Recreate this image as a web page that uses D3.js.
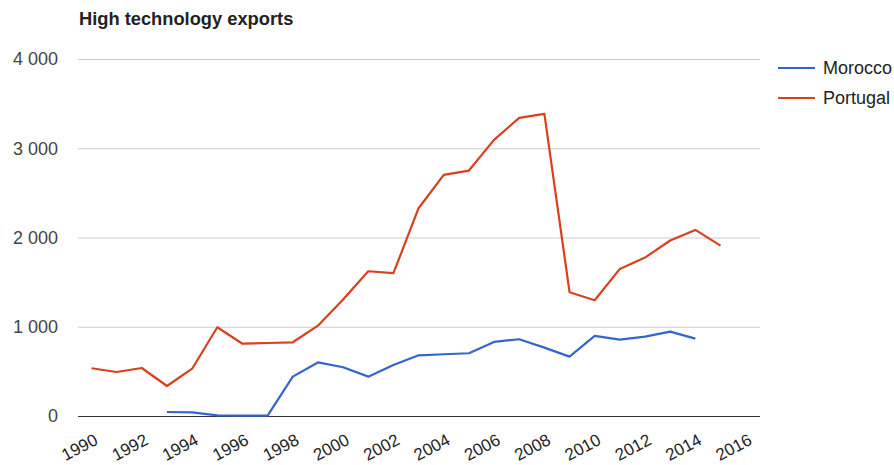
<!DOCTYPE html>
<html>
<head>
<meta charset="utf-8">
<script src="https://cdn.jsdelivr.net/npm/d3@7"></script>
<style>
  html, body { margin: 0; padding: 0; background: #fff; }
  svg { display: block; font-family: "Liberation Sans", Arial, sans-serif; }
</style>
</head>
<body>
<svg id="chart" width="894" height="465"></svg>
<script>
// High technology exports by year
const years = [1990, 1991, 1992, 1993, 1994, 1995, 1996, 1997, 1998, 1999,
               2000, 2001, 2002, 2003, 2004, 2005, 2006, 2007, 2008, 2009,
               2010, 2011, 2012, 2013, 2014, 2015];
const morocco = [null, null, null, 45, 40, 8, 5, 5, 441, 600,
                 546, 441, 572, 680, 692, 703, 830, 860, 766, 665,
                 897, 856, 889, 945, 867, null];
const portugal = [535, 493, 538, 336, 530, 994, 810, 818, 826, 1012,
                  1305, 1622, 1600, 2328, 2702, 2750, 3094, 3341, 3386, 1387,
                  1297, 1648, 1775, 1966, 2085, 1909];
const seriesNames = ["Morocco", "Portugal"];
const seriesColors = ["#3366cc", "#d8401e"];
const yTicks = [0, 1000, 2000, 3000, 4000];
const xTicks = [1990, 1992, 1994, 1996, 1998, 2000, 2002, 2004, 2006, 2008, 2010, 2012, 2014, 2016];
const title = "High technology exports";

const svg = d3.select("#chart");
const plot = { left: 78, right: 760, top: 59, bottom: 416 };

const x = d3.scaleLinear().domain([1990, 2015]).range([91.5, 720.5]);
const y = d3.scaleLinear().domain([0, 4000]).range([plot.bottom, plot.top]);

// Title
svg.append("text")
  .attr("x", 79).attr("y", 25)
  .attr("font-size", 18.3).attr("font-weight", "bold").attr("fill", "#222")
  .text(title);

// Horizontal gridlines and y labels
const yAxis = d3.axisLeft(y).tickValues(yTicks)
  .tickSize(-(plot.right - plot.left))
  .tickPadding(20)
  .tickFormat(d => d3.format(",")(d).replace(/,/g, " "));
const gy = svg.append("g").attr("transform", `translate(${plot.left},0)`).call(yAxis);
gy.select(".domain").remove();
gy.selectAll(".tick line").attr("stroke-width", 1)
  .attr("stroke", d => d === 0 ? "#333" : "#cccccc");
gy.selectAll(".tick text").attr("font-size", 18).attr("fill", "#444")
  .attr("font-family", "Liberation Sans, Arial, sans-serif");

// X labels, rotated
const xAxis = d3.axisBottom(x).tickValues(xTicks).tickSize(0).tickFormat(d3.format("d"));
const gx = svg.append("g").attr("transform", `translate(0,${plot.bottom})`).call(xAxis);
gx.select(".domain").remove();
gx.selectAll(".tick text")
  .attr("font-size", 17).attr("fill", "#222")
  .attr("font-family", "Liberation Sans, Arial, sans-serif")
  .attr("text-anchor", "end")
  .attr("dy", null)
  .attr("y", 0)
  .attr("transform", "translate(7,27.5) rotate(-28)");

// Lines
const data = [morocco, portugal];
const line = d3.line()
  .defined(d => d.v !== null)
  .x(d => x(d.year))
  .y(d => y(d.v));
data.forEach((vals, i) => {
  svg.append("path")
    .datum(years.map((yr, j) => ({ year: yr, v: vals[j] })))
    .attr("fill", "none")
    .attr("stroke", seriesColors[i])
    .attr("stroke-width", 2.2)
    .attr("stroke-linejoin", "round")
    .attr("d", line);
});

// Legend
const legend = svg.append("g");
seriesNames.forEach((name, i) => {
  const ly = 68 + i * 30;
  legend.append("line")
    .attr("x1", 778).attr("x2", 815).attr("y1", ly).attr("y2", ly)
    .attr("stroke", seriesColors[i]).attr("stroke-width", 2.2);
  legend.append("text")
    .attr("x", 823).attr("y", ly).attr("dy", "0.35em")
    .attr("font-size", 18).attr("fill", "#222")
    .text(name);
});
</script>
</body>
</html>
